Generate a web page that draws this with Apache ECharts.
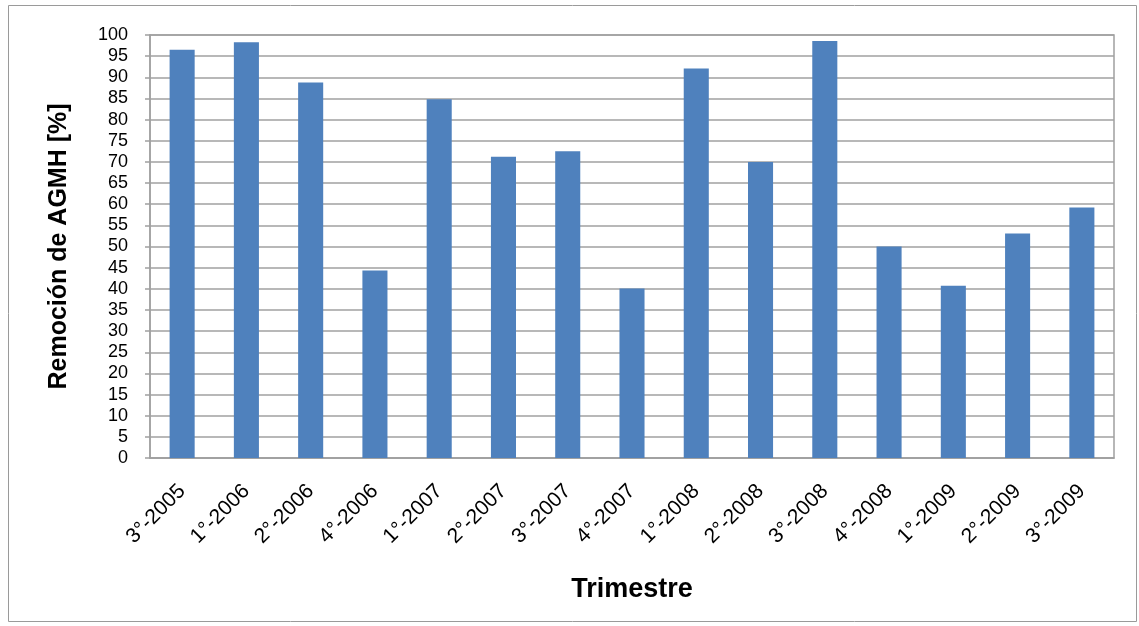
<!DOCTYPE html>
<html>
<head>
<meta charset="utf-8">
<script src="https://cdn.jsdelivr.net/npm/echarts@6/dist/echarts.min.js"></script>
<style>
  html, body { margin: 0; padding: 0; background: #fff; }
  #chart { width: 1139px; height: 626px; }
</style>
</head>
<body>
<div id="chart"></div>
<script>
// Quarterly AGMH removal (%)
const trimestres = [
  '3°-2005', '1°-2006', '2°-2006', '4°-2006', '1°-2007', '2°-2007', '3°-2007', '4°-2007',
  '1°-2008', '2°-2008', '3°-2008', '4°-2008', '1°-2009', '2°-2009', '3°-2009'
];
const remocion = [96.5, 98.3, 88.8, 44.3, 84.8, 71.2, 72.5, 40.1, 92.1, 70.0, 98.6, 50.0, 40.7, 53.1, 59.2];
const yMin = 0;
const yMax = 100;
const yStep = 5;

const FONT = '"Liberation Sans", Arial, sans-serif';
const chart = echarts.init(document.getElementById('chart'), null, { renderer: 'canvas' });

chart.setOption({
  animation: false,
  backgroundColor: '#ffffff',
  graphic: [{
    type: 'rect',
    shape: { x: 8.5, y: 5.5, width: 1128, height: 616 },
    style: { fill: 'none', stroke: '#9a9a9a', lineWidth: 1 },
    silent: true
  }],
  grid: { left: 150, right: 25, top: 35, bottom: 168, containLabel: false,
          show: true, borderColor: '#a0a0a0', borderWidth: 1.5 },
  xAxis: {
    type: 'category',
    data: trimestres,
    name: 'Trimestre',
    nameLocation: 'middle',
    nameGap: 118,
    nameTextStyle: { fontFamily: FONT, fontSize: 27, fontWeight: 'bold', color: '#000' },
    axisLine: { lineStyle: { color: '#a0a0a0', width: 1.5 } },
    axisTick: { show: false },
    axisLabel: { rotate: 45, margin: 30, fontFamily: FONT, fontSize: 21, color: '#000', interval: 0 },
    splitLine: { show: false }
  },
  yAxis: {
    type: 'value',
    min: yMin,
    max: yMax,
    interval: yStep,
    name: 'Remoción de AGMH [%]',
    nameLocation: 'middle',
    nameGap: 78,
    nameTextStyle: { fontFamily: FONT, fontSize: 25, fontWeight: 'bold', color: '#000' },
    axisLine: { show: true, lineStyle: { color: '#a0a0a0', width: 1.5 } },
    axisTick: { show: true, length: 5, lineStyle: { color: '#a0a0a0', width: 1.5 } },
    axisLabel: { margin: 22, fontFamily: FONT, fontSize: 18, color: '#000' },
    splitLine: { show: true, lineStyle: { color: '#a0a0a0', width: 1.5 } }
  },
  series: [{
    type: 'bar',
    data: remocion,
    barCategoryGap: '61%',
    itemStyle: { color: '#4f81bd' }
  }]
});
</script>
</body>
</html>
